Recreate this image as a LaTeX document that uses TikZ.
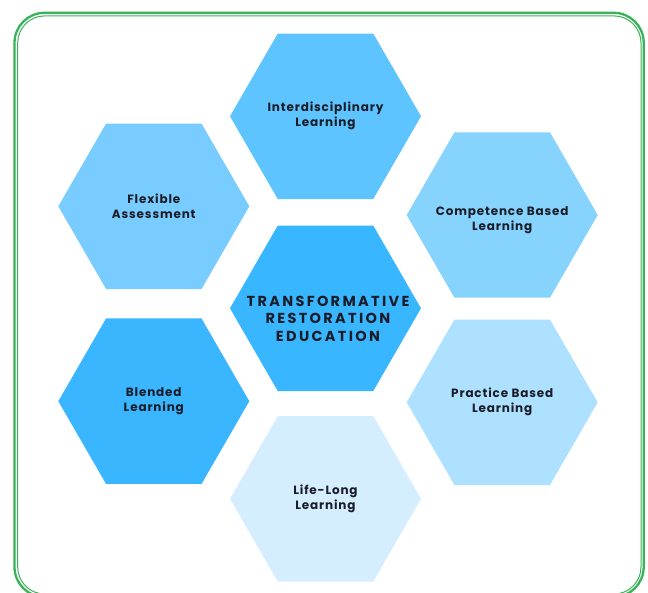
\documentclass[tikz,border=0pt]{standalone}
\usepackage{fontspec}
\setmainfont{Poppins}
\newfontfamily\lblfont[LetterSpace=7]{Poppins}
\newfontfamily\ttlfont[LetterSpace=16]{Poppins}
\usetikzlibrary{shapes.geometric}
\definecolor{framegreen}{RGB}{58,178,90}
\definecolor{cCenter}{HTML}{38B6FF}
\definecolor{cTop}{HTML}{5EC4FF}
\definecolor{cFlex}{HTML}{79CCFF}
\definecolor{cComp}{HTML}{86D3FE}
\definecolor{cPract}{HTML}{AEE1FF}
\definecolor{cLife}{HTML}{D5EEFF}
\definecolor{cBlend}{HTML}{3AB5FF}
\definecolor{textc}{HTML}{1A1C28}
\tikzset{
  hexa/.style={regular polygon, regular polygon sides=6, minimum size=191pt, inner sep=0pt, outer sep=0pt, draw=none},
  lbl/.style={font=\lblfont\bfseries\fontsize{12}{15}\selectfont, align=center, text=textc, inner sep=0pt},
  ttl/.style={font=\ttlfont\bfseries\fontsize{14.5}{17.5}\selectfont, align=center, text=textc, inner sep=0pt},
  frameout/.style={draw=framegreen, line width=2.3pt, rounded corners=30pt},
  framein/.style={draw=framegreen, line width=1pt, rounded corners=27pt}
}
\begin{document}
\begin{tikzpicture}[x=1pt,y=-1pt]
\useasboundingbox (0,0) rectangle (648,592);
\fill[white] (0,0) rectangle (648,592);
\draw[frameout] (14.5,12.8) rectangle (643.7,597);
\draw[framein] (17.7,15.9) rectangle (641,594);

\node[hexa, fill=cTop]    (hinter) at (325.5,116.3) {};
\node[hexa, fill=cFlex]   (hflex)  at (153.8,206.3) {};
\node[hexa, fill=cComp]   (hcomp)  at (502.2,215)   {};
\node[hexa, fill=cCenter] (hcent)  at (325.5,308.3) {};
\node[hexa, fill=cBlend]  (hblend) at (153.8,401.2) {};
\node[hexa, fill=cPract]  (hpract) at (502.2,402.3) {};
\node[hexa, fill=cLife]   (hlife)  at (325.5,498.8) {};

\node[lbl] (tinter) at (325.5,116)  {Interdisciplinary\\Learning};
\node[lbl] (tflex)  at (153.8,206)  {Flexible\\Assessment};
\node[lbl] (tcomp)  at (502.2,220.5){Competence Based\\Learning};
\node[ttl] (tcent)  at (328,318.5)  {TRANSFORMATIVE\\RESTORATION\\EDUCATION};
\node[lbl] (tblend) at (153.8,401)  {Blended\\Learning};
\node[lbl] (tpract) at (502.2,402)  {Practice Based\\Learning};
\node[lbl] (tlife)  at (325.5,499)  {Life-Long\\Learning};
\end{tikzpicture}
\end{document}
